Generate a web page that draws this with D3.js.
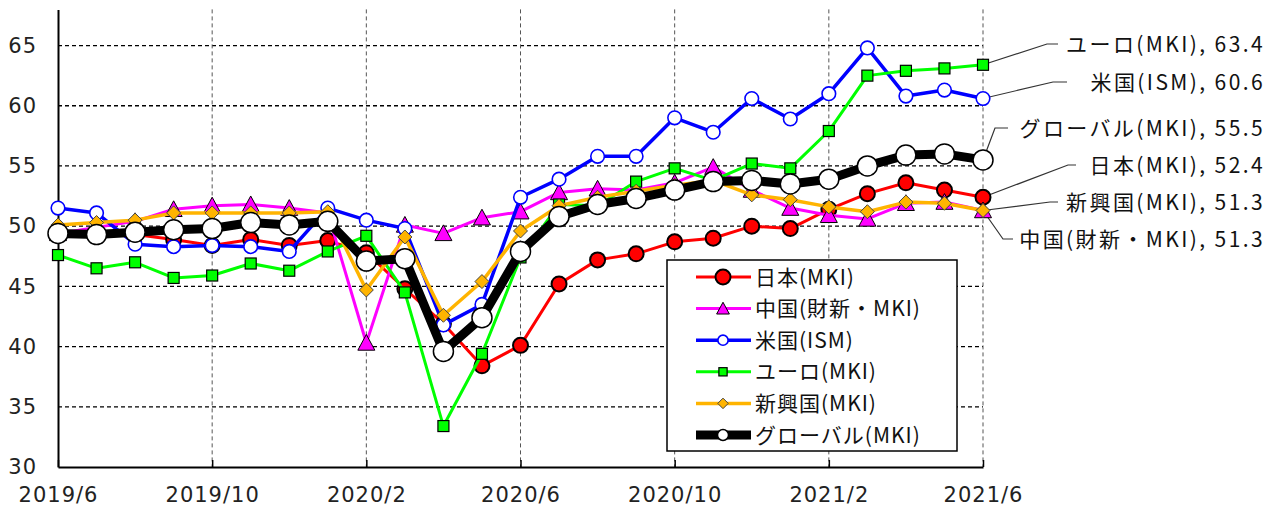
<!DOCTYPE html>
<html>
<head>
<meta charset="utf-8">
<script src="https://cdn.jsdelivr.net/npm/d3@7"></script>
<style>
  body { margin: 0; background: #fff; }
  svg { display: block; }
  .tick text { font-family: 'DejaVu Sans', sans-serif; font-size: 21px; letter-spacing: 1px; fill: #222; }
  .lbl { font-family: 'Noto Sans CJK JP', sans-serif; font-size: 21px; fill: #111; }
  .callout { letter-spacing: 2.4px; }
  .leg { letter-spacing: 1px; }
</style>
</head>
<body>
<svg id="chart" width="1285" height="507"></svg>
<script>
const months = ['2019/6','2019/7','2019/8','2019/9','2019/10','2019/11','2019/12',
  '2020/1','2020/2','2020/3','2020/4','2020/5','2020/6','2020/7','2020/8','2020/9',
  '2020/10','2020/11','2020/12','2021/1','2021/2','2021/3','2021/4','2021/5','2021/6'];
const yTicks = [30, 35, 40, 45, 50, 55, 60, 65];

const japan  = [49.3,49.4,49.3,48.9,48.4,48.9,48.4,48.8,47.8,44.8,41.9,38.4,40.1,45.2,47.2,47.7,48.7,49.0,50.0,49.8,51.4,52.7,53.6,53.0,52.4];
const china  = [49.4,49.9,50.4,51.4,51.7,51.8,51.5,51.1,40.3,50.1,49.4,50.7,51.2,52.8,53.1,53.0,53.6,54.9,53.0,51.5,50.9,50.6,51.9,52.0,51.3];
const usa    = [51.5,51.1,48.5,48.3,48.4,48.3,47.9,51.5,50.5,49.8,41.8,43.5,52.4,53.9,55.8,55.8,59.0,57.8,60.6,58.9,61.0,64.8,60.8,61.3,60.6];
const euro   = [47.6,46.5,47.0,45.7,45.9,46.9,46.3,47.9,49.2,44.5,33.4,39.4,47.4,51.8,51.7,53.7,54.8,53.8,55.2,54.8,57.9,62.5,62.9,63.1,63.4];
const emerg  = [50.1,50.3,50.5,51.1,51.1,51.1,51.1,51.2,44.7,49.1,42.6,45.4,49.6,51.7,52.4,52.9,53.4,53.8,52.6,52.2,51.6,51.2,52.0,51.9,51.3];
const global = [49.4,49.3,49.5,49.7,49.8,50.3,50.1,50.4,47.1,47.3,39.6,42.4,47.9,50.8,51.8,52.3,53.0,53.7,53.8,53.5,53.9,55.0,55.9,56.0,55.5];

const names = ['日本(MKI)','中国(財新・MKI)','米国(ISM)','ユーロ(MKI)','新興国(MKI)','グローバル(MKI)'];

const series = [
  { name: names[0], values: japan,  color: '#ff0000', width: 3,   marker: 'circle' },
  { name: names[1], values: china,  color: '#ff00ff', width: 3,   marker: 'triangle' },
  { name: names[2], values: usa,    color: '#0000ff', width: 3.5, marker: 'ring' },
  { name: names[3], values: euro,   color: '#00ff00', width: 3,   marker: 'square' },
  { name: names[4], values: emerg,  color: '#ffb400', width: 3.5, marker: 'diamond' },
  { name: names[5], values: global, color: '#000000', width: 9,   marker: 'big' }
];

// right-side callouts: series index, label y, elbow x, end x
const callouts = [
  { s: 3, ly: 44,  kx: 1047, ex: 1058 },
  { s: 2, ly: 82,  kx: 1053, ex: 1067 },
  { s: 5, ly: 128, kx: 995,  ex: 1008 },
  { s: 0, ly: 165, kx: 1068, ex: 1076 },
  { s: 4, ly: 202, kx: 1050, ex: 1058 },
  { s: 1, ly: 239, kx: 1003, ex: 1013 }
];

const svg = d3.select('#chart');
const x = d3.scaleLinear().domain([0, months.length - 1]).range([58, 983]);
const y = d3.scaleLinear().domain([30, 68]).range([467, 9.4]);

// grid
svg.append('g').selectAll('line').data(yTicks.filter(t => t > 30)).join('line')
  .attr('x1', x(0)).attr('x2', x(24)).attr('y1', d => y(d)).attr('y2', d => y(d))
  .attr('stroke', '#000').attr('stroke-width', 1.3).attr('stroke-dasharray', '4,3');
svg.append('g').selectAll('line').data(d3.range(4, 25, 4)).join('line')
  .attr('x1', d => x(d)).attr('x2', d => x(d)).attr('y1', y(68)).attr('y2', y(30))
  .attr('stroke', '#555').attr('stroke-width', 1).attr('stroke-dasharray', '4,3');

// axes
const yAxis = svg.append('g').attr('transform', `translate(${x(0)},0)`)
  .call(d3.axisLeft(y).tickValues(yTicks).tickSize(0).tickPadding(21));
yAxis.select('.domain').attr('stroke', '#000').attr('stroke-width', 2);

const xAxis = svg.append('g').attr('transform', `translate(0,${y(30)})`)
  .call(d3.axisBottom(x).tickValues(d3.range(0, 25, 4)).tickFormat(i => months[i])
    .tickSizeInner(-7).tickSizeOuter(0).tickPadding(20));
xAxis.select('.domain').attr('stroke', '#000').attr('stroke-width', 2);
xAxis.selectAll('.tick line').attr('stroke', '#000').attr('stroke-width', 1.5);

// callout leaders (under the markers)
svg.append('g').selectAll('polyline').data(callouts).join('polyline')
  .attr('points', d => {
    const v = series[d.s].values;
    return [[x(24), y(v[24])], [d.kx, d.ly], [d.ex, d.ly]].map(p => p.join(',')).join(' ');
  })
  .attr('fill', 'none').attr('stroke', '#333').attr('stroke-width', 1.2);

function drawMarker(g, kind, color, scale) {
  const k = scale || 1;
  if (kind === 'circle') {
    g.append('circle').attr('r', 7.5 * k).attr('fill', color).attr('stroke', '#000').attr('stroke-width', 2);
  } else if (kind === 'triangle') {
    const s = 8.5 * k;
    g.append('path').attr('d', `M0,${-s} L${s},${s * 0.85} L${-s},${s * 0.85}Z`)
      .attr('fill', color).attr('stroke', '#000').attr('stroke-width', 1);
  } else if (kind === 'ring') {
    g.append('circle').attr('r', 6.8 * k).attr('fill', '#fff').attr('stroke', color).attr('stroke-width', 1.6);
  } else if (kind === 'square') {
    const s = 5.5 * k;
    g.append('rect').attr('x', -s).attr('y', -s).attr('width', 2 * s).attr('height', 2 * s)
      .attr('fill', color).attr('stroke', '#000').attr('stroke-width', 1.2);
  } else if (kind === 'diamond') {
    const s = 7 * k;
    g.append('path').attr('d', `M0,${-s} L${s},0 L0,${s} L${-s},0Z`)
      .attr('fill', color).attr('stroke', '#444').attr('stroke-width', 1);
  } else if (kind === 'big') {
    g.append('circle').attr('r', 10 * k).attr('fill', '#fff').attr('stroke', '#000').attr('stroke-width', 1.5);
  }
}

const line = d3.line().x((d, i) => x(i)).y(d => y(d));

series.forEach(s => {
  const g = svg.append('g');
  g.append('path').attr('d', line(s.values)).attr('fill', 'none')
    .attr('stroke', s.color).attr('stroke-width', s.width).attr('stroke-linejoin', 'round');
  s.values.forEach((v, i) => {
    drawMarker(g.append('g').attr('transform', `translate(${x(i)},${y(v)})`), s.marker, s.color);
  });
});

// callout texts
svg.append('g').selectAll('text').data(callouts).join('text')
  .attr('class', 'lbl callout')
  .attr('x', 1265).attr('y', d => d.ly).attr('dy', '0.36em').attr('text-anchor', 'end')
  .text(d => `${series[d.s].name}, ${series[d.s].values[24].toFixed(1)}`);

// legend
const legend = svg.append('g');
legend.append('rect').attr('x', 667).attr('y', 260).attr('width', 290).attr('height', 191)
  .attr('fill', '#fff').attr('stroke', '#000').attr('stroke-width', 1.5);
series.forEach((s, i) => {
  const ly = 277 + i * 31.6;
  legend.append('line').attr('x1', 696).attr('x2', 751).attr('y1', ly).attr('y2', ly)
    .attr('stroke', s.color).attr('stroke-width', s.width);
  drawMarker(legend.append('g').attr('transform', `translate(723,${ly})`), s.marker, s.color,
    s.marker === 'big' ? 0.55 : (s.marker === 'circle' ? 1 : 0.75));
  legend.append('text').attr('class', 'lbl leg').attr('x', 755).attr('y', ly).attr('dy', '0.36em').text(s.name);
});
</script>
</body>
</html>
